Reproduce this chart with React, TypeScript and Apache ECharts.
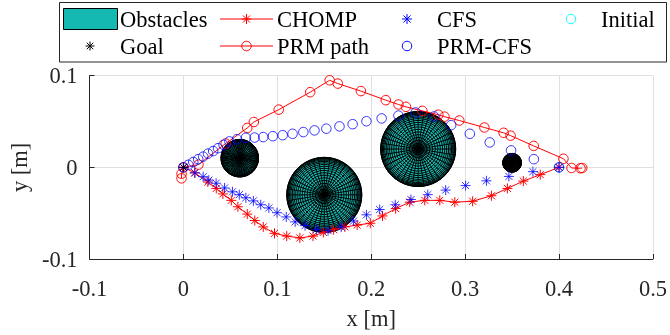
import React, { useEffect, useRef } from "react";
import * as echarts from "echarts";

const FONT = "'Liberation Serif', 'Times New Roman', serif";
const TEAL = "#14bab2";
const RED = "#ff0000";
const BLUE = "#0000ff";
const CYAN = "#00ffff";
const AXIS = "#262626";
const STAR = "path://M5 0L5 10M0 5L10 5M1.46 1.46L8.54 8.54M1.46 8.54L8.54 1.46";

// Obstacles (spheres seen from above): centre x, centre y, radius
const obstacleX = [0.06, 0.15, 0.25, 0.35];
const obstacleY = [0.01, -0.03, 0.02, 0.005];
const obstacleR = [0.02, 0.04, 0.04, 0.01];

const goalX = [0];
const goalY = [0];
const initialX = [0.4];
const initialY = [0];

const chompX = [0, 0.012, 0.026, 0.035, 0.042, 0.051, 0.058, 0.068, 0.076, 0.085, 0.097, 0.11, 0.124, 0.138, 0.149, 0.16, 0.172, 0.185, 0.199, 0.212, 0.226, 0.241, 0.257, 0.273, 0.289, 0.308, 0.328, 0.345, 0.362, 0.38, 0.4];
const chompY = [0, -0.006, -0.016, -0.023, -0.029, -0.036, -0.043, -0.051, -0.058, -0.065, -0.072, -0.075, -0.077, -0.075, -0.071, -0.068, -0.065, -0.063, -0.061, -0.053, -0.045, -0.038, -0.036, -0.036, -0.038, -0.037, -0.031, -0.023, -0.015, -0.008, 0];

const prmX = [-0.002, -0.002, 0, 0.016, 0.045, 0.068, 0.075, 0.1015, 0.135, 0.1557, 0.1644, 0.189, 0.2155, 0.229, 0.237, 0.2545, 0.2715, 0.278, 0.2938, 0.3205, 0.341, 0.3484, 0.373, 0.4047, 0.4133, 0.4228, 0.4247];
const prmY = [-0.012, -0.007, 0, 0.003, 0.026, 0.043, 0.0495, 0.063, 0.082, 0.095, 0.0914, 0.0832, 0.0733, 0.0686, 0.066, 0.0616, 0.0574, 0.0553, 0.0511, 0.0435, 0.0377, 0.0346, 0.0234, 0.0094, -0.0007, -0.001, -0.0007];

const cfsX = [0, 0.0123, 0.021, 0.027, 0.0348, 0.0438, 0.0522, 0.0595, 0.0665, 0.0745, 0.0823, 0.091, 0.0997, 0.1095, 0.119, 0.1295, 0.1417, 0.154, 0.168, 0.1812, 0.1949, 0.209, 0.2256, 0.2423, 0.2602, 0.2793, 0.3005, 0.3227, 0.3466, 0.3722, 0.4];
const cfsY = [0, -0.006, -0.0102, -0.014, -0.0173, -0.0225, -0.0267, -0.0298, -0.0332, -0.0366, -0.0408, -0.0443, -0.0495, -0.0541, -0.0595, -0.0636, -0.0679, -0.0691, -0.0652, -0.0586, -0.0518, -0.046, -0.0408, -0.0351, -0.0298, -0.0248, -0.0199, -0.0147, -0.0099, -0.0047, 0];

const prmCfsX = [0, 0.0052, 0.0105, 0.0157, 0.021, 0.0262, 0.0317, 0.0369, 0.0427, 0.049, 0.0571, 0.0665, 0.0758, 0.085, 0.0952, 0.1057, 0.1162, 0.1277, 0.1396, 0.1522, 0.1662, 0.1802, 0.1949, 0.2111, 0.229, 0.2473, 0.2669, 0.2851, 0.305, 0.3262, 0.3489, 0.3732, 0.4];
const prmCfsY = [0, 0.0028, 0.0058, 0.0089, 0.0117, 0.015, 0.0178, 0.0209, 0.0246, 0.0283, 0.0307, 0.0323, 0.0325, 0.033, 0.034, 0.0351, 0.0366, 0.0385, 0.0403, 0.0422, 0.0447, 0.0471, 0.0503, 0.0534, 0.0565, 0.0599, 0.0555, 0.0461, 0.0366, 0.0272, 0.0185, 0.0089, 0];

const xTicks = [-0.1, 0, 0.1, 0.2, 0.3, 0.4, 0.5];
const yTicks = [-0.1, 0, 0.1];

const legendNames = ["Obstacles", "Goal", "CHOMP", "PRM path", "CFS", "PRM-CFS", "Initial"];

const zip = (xs: number[], ys: number[]) => xs.map((x, i) => [x, ys[i]]);

const MERIDIANS = 40;
const RINGS = 20;

function renderSphere(params: any, api: any) {
  const c = api.coord([api.value(0), api.value(1)]);
  const rp = api.size([api.value(2), 0])[0];
  const children: any[] = [
    { type: "circle", shape: { cx: c[0], cy: c[1], r: rp }, style: { fill: TEAL, stroke: "#000", lineWidth: 1 } },
  ];
  for (let k = 1; k < RINGS; k++) {
    const rr = rp * Math.cos((k * Math.PI) / 2 / RINGS);
    children.push({ type: "circle", shape: { cx: c[0], cy: c[1], r: rr }, style: { fill: "none", stroke: "#000", lineWidth: 1 } });
  }
  for (let m = 0; m < MERIDIANS; m++) {
    const a = (2 * Math.PI * m) / MERIDIANS;
    children.push({
      type: "line",
      shape: { x1: c[0], y1: c[1], x2: c[0] + rp * Math.cos(a), y2: c[1] + rp * Math.sin(a) },
      style: { stroke: "#000", lineWidth: 1 },
    });
  }
  return { type: "group", children };
}

const FS = 22.5;

function starG(cx: number, cy: number, s: number, color: string) {
  const d = s * 0.707;
  const seg = (x1: number, y1: number, x2: number, y2: number) => ({
    type: "line",
    shape: { x1: cx + x1, y1: cy + y1, x2: cx + x2, y2: cy + y2 },
    style: { stroke: color, lineWidth: 1 },
  });
  return { type: "group", children: [seg(0, -s, 0, s), seg(-s, 0, s, 0), seg(-d, -d, d, d), seg(-d, d, d, -d)] };
}
function circG(cx: number, cy: number, color: string) {
  return { type: "circle", shape: { cx, cy, r: 4.75 }, style: { fill: "none", stroke: color, lineWidth: 1 } };
}
function lineG(x1: number, x2: number, y: number, color: string) {
  return { type: "line", shape: { x1, y1: y, x2, y2: y }, style: { stroke: color, lineWidth: 1 } };
}
function textG(x: number, y: number, text: string) {
  return { type: "text", x, y, style: { text, fontFamily: FONT, fontSize: FS, fill: "#000", verticalAlign: "middle", align: "left" } };
}

const ROW1 = 19;
const ROW2 = 46;

export default function App() {
  const ref = useRef<HTMLDivElement>(null);
  useEffect(() => {
    const chart = echarts.init(ref.current!, null, { renderer: "svg" });
    const option: any = {
      animation: false,
      grid: { left: 83.3, right: 15.3, top: 75.7, bottom: 68.3, containLabel: false },
      graphic: [
        {
          type: "group",
          children: [
            { type: "rect", shape: { x: 59.5, y: 2.5, width: 607, height: 59.5 }, style: { fill: "#fff", stroke: AXIS, lineWidth: 1 } },
            { type: "rect", shape: { x: 63.5, y: 8.5, width: 54, height: 21 }, style: { fill: TEAL, stroke: "#000", lineWidth: 1 } },
            textG(120, ROW1, legendNames[0]),
            starG(90, ROW2, 4.5, "#000"),
            textG(120, ROW2, legendNames[1]),
            lineG(220, 273, ROW1, RED),
            starG(246.5, ROW1, 5, RED),
            textG(277, ROW1, legendNames[2]),
            lineG(220, 273, ROW2, RED),
            circG(246.5, ROW2, RED),
            textG(277, ROW2, legendNames[3]),
            starG(407, ROW1, 5, BLUE),
            textG(437, ROW1, legendNames[4]),
            circG(407, ROW2, BLUE),
            textG(437, ROW2, legendNames[5]),
            circG(571, ROW1, CYAN),
            textG(601, ROW1, legendNames[6]),
          ],
        },
      ],
      xAxis: {
        type: "value",
        min: xTicks[0],
        max: xTicks[xTicks.length - 1],
        interval: 0.1,
        name: "x [m]",
        nameLocation: "middle",
        nameGap: 48,
        nameTextStyle: { fontFamily: FONT, fontSize: FS, color: AXIS },
        axisLine: { onZero: false, lineStyle: { color: AXIS, width: 1 } },
        axisTick: { inside: true, length: 5, lineStyle: { color: AXIS } },
        axisLabel: { fontFamily: FONT, fontSize: FS, color: AXIS, margin: 18, formatter: (v: number) => String(Math.round(v * 10) / 10) },
        splitLine: { show: true, lineStyle: { color: "#e0e0e0", width: 1 } },
      },
      yAxis: {
        type: "value",
        min: yTicks[0],
        max: yTicks[yTicks.length - 1],
        interval: 0.1,
        name: "y [m]",
        nameLocation: "middle",
        nameGap: 55,
        nameTextStyle: { fontFamily: FONT, fontSize: FS, color: AXIS },
        axisLine: { show: true, onZero: false, lineStyle: { color: AXIS, width: 1 } },
        axisTick: { show: true, inside: true, length: 5, lineStyle: { color: AXIS } },
        axisLabel: { fontFamily: FONT, fontSize: FS, color: AXIS, margin: 12, padding: [6, 0, 0, 0], formatter: (v: number) => String(Math.round(v * 10) / 10) },
        splitLine: { show: true, lineStyle: { color: "#e0e0e0", width: 1 } },
      },
      series: [
        {
          name: "Obstacles",
          type: "custom",
          renderItem: renderSphere,
          data: obstacleX.map((x, i) => [x, obstacleY[i], obstacleR[i]]),
          z: 1,
        },
        {
          name: "Initial",
          type: "scatter",
          data: zip(initialX, initialY),
          symbol: "circle",
          symbolSize: 9.5,
          itemStyle: { color: "rgba(0,0,0,0)", borderColor: CYAN, borderWidth: 1 },
          z: 2,
        },
        {
          name: "CHOMP",
          type: "line",
          data: zip(chompX, chompY),
          symbol: STAR,
          symbolSize: 10,
          showAllSymbol: true,
          lineStyle: { color: RED, width: 1 },
          itemStyle: { color: RED, borderColor: RED, borderWidth: 1 },
          z: 3,
        },
        {
          name: "PRM path",
          type: "line",
          data: zip(prmX, prmY),
          symbol: "circle",
          symbolSize: 9.5,
          showAllSymbol: true,
          lineStyle: { color: RED, width: 1 },
          itemStyle: { color: "rgba(0,0,0,0)", borderColor: RED, borderWidth: 1 },
          z: 4,
        },
        {
          name: "CFS",
          type: "scatter",
          data: zip(cfsX, cfsY),
          symbol: STAR,
          symbolSize: 10,
          itemStyle: { color: BLUE, borderColor: BLUE, borderWidth: 1 },
          z: 5,
        },
        {
          name: "PRM-CFS",
          type: "scatter",
          data: zip(prmCfsX, prmCfsY),
          symbol: "circle",
          symbolSize: 9.5,
          itemStyle: { color: "rgba(0,0,0,0)", borderColor: BLUE, borderWidth: 1 },
          z: 6,
        },
        {
          name: "Goal",
          type: "scatter",
          data: zip(goalX, goalY),
          symbol: STAR,
          symbolSize: 9,
          itemStyle: { color: "#000", borderColor: "#000", borderWidth: 1 },
          z: 7,
        },
      ],
    };
    chart.setOption(option);
    return () => chart.dispose();
  }, []);
  return <div ref={ref} style={{ position: "fixed", left: 0, top: 0, width: 670, height: 335 }} />;
}
